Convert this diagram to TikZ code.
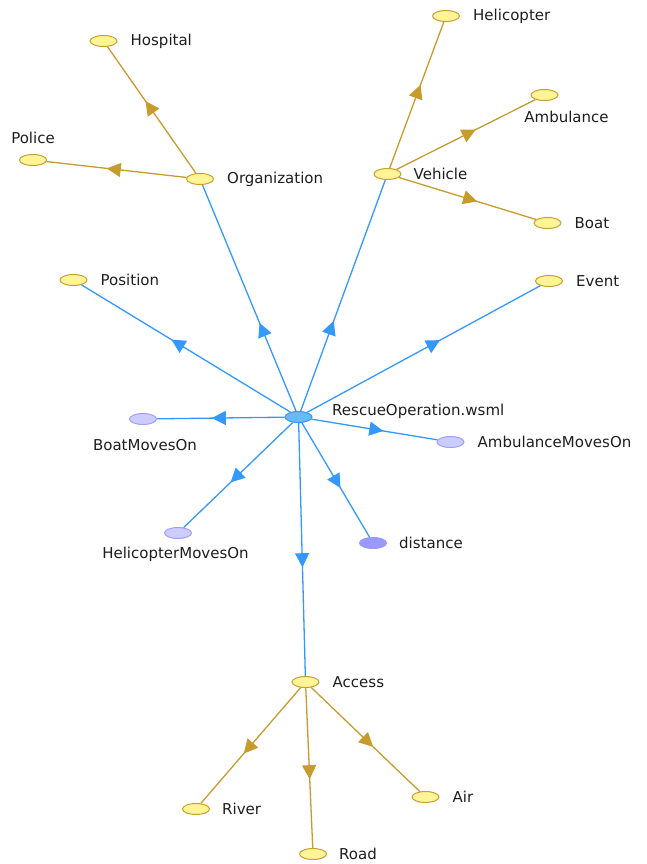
\documentclass[tikz,border=0pt]{standalone}
\usepackage{fontspec}
\setmainfont{DejaVu Sans}
\usepackage{tikz}
\usetikzlibrary{positioning,arrows.meta,shapes.geometric,decorations.markings}
\definecolor{conceptcol}{RGB}{255,244,150}
\definecolor{conceptborder}{RGB}{200,160,50}
\definecolor{isaedge}{RGB}{200,155,45}
\definecolor{reledge}{RGB}{51,153,255}
\definecolor{ontcol}{RGB}{102,187,255}
\definecolor{relcol}{RGB}{204,204,255}
\definecolor{relborder}{RGB}{160,160,255}
\definecolor{attrcol}{RGB}{153,153,255}
\definecolor{labeltext}{RGB}{30,30,30}

\begin{document}
\begin{tikzpicture}[
                x=1pt, y=-1pt,
                lbl/.style={font=\fontsize{15}{18}\selectfont, text=labeltext, inner sep=0pt},
                concept/.style={ellipse, draw=conceptborder, fill=conceptcol, line width=1pt, minimum width=27pt, minimum height=11pt, inner sep=0pt},
                relnode/.style={concept, draw=relborder, fill=relcol},
                attrnode/.style={concept, draw=attrcol, fill=attrcol},
                ontnode/.style={concept, draw=reledge, fill=ontcol},
                midtip/.style={postaction={decorate, decoration={markings, mark=at position #1 with {\arrow{Triangle[length=14pt, width=14pt]}}}}},
                isa/.style={draw=isaedge, line width=1.3pt, midtip=#1, color=isaedge},
                isa/.default=0.57,
                rel/.style={draw=reledge, line width=1.3pt, midtip=#1, color=reledge},
                rel/.default=0.57
                ]
                \useasboundingbox (0,0) rectangle (647,864);

                % centre of the ontology
                \node[ontnode] (onto) at (298.5,417) {};
                \node[lbl, anchor=west] (ontoL) at (332,411) {RescueOperation.wsml};

                % concepts
                \node[concept] (org) at (200,179) {};
                \node[concept] (hosp) at (103.5,41) {};
                \node[concept] (police) at (33,160) {};
                \node[concept] (veh) at (387.5,174) {};
                \node[concept] (heli) at (446,16) {};
                \node[concept] (amb) at (544.5,95) {};
                \node[concept] (boat) at (547.5,223) {};
                \node[concept] (pos) at (73.5,280) {};
                \node[concept] (event) at (549,281) {};
                \node[concept] (access) at (305.5,682) {};
                \node[concept] (river) at (196,809) {};
                \node[concept] (road) at (313,854) {};
                \node[concept] (air) at (425.5,797) {};

                % relations and attribute
                \node[relnode] (boatmv) at (143,419) {};
                \node[relnode] (ambmv) at (450.5,442) {};
                \node[relnode] (helimv) at (178,533) {};
                \node[attrnode] (dist) at (373,543) {};

                \node[lbl, right=13pt of org] (orgL) {Organization};
                \node[lbl, right=13pt of hosp] (hospL) {Hospital};
                \node[lbl, above=10pt of police] (policeL) {Police};
                \node[lbl, right=12pt of veh] (vehL) {Vehicle};
                \node[lbl, right=13pt of heli] (heliL) {Helicopter};
                \node[lbl, below=10pt of amb, xshift=22pt] (ambL) {Ambulance};
                \node[lbl, right=13pt of boat] (boatL) {Boat};
                \node[lbl, right=13pt of pos] (posL) {Position};
                \node[lbl, right=13pt of event] (eventL) {Event};
                \node[lbl, right=13pt of access] (accessL) {Access};
                \node[lbl, right=12pt of river] (riverL) {River};
                \node[lbl, right=12pt of road] (roadL) {Road};
                \node[lbl, right=13pt of air] (airL) {Air};
                \node[lbl, below=14pt of boatmv, xshift=2pt] (boatmvL) {BoatMovesOn};
                \node[lbl, below=8pt of helimv, xshift=-2.5pt] (helimvL) {HelicopterMovesOn};
                \node[lbl, right=13pt of ambmv] (ambmvL) {AmbulanceMovesOn};
                \node[lbl, right=12pt of dist] (distL) {distance};

                % edges from the ontology
                \draw[rel=0.39] (onto) -- (org);
                \draw[rel=0.39] (onto) -- (veh);
                \draw[rel] (onto) -- (pos);
                \draw[rel] (onto) -- (event);
                \draw[rel] (onto) -- (boatmv);
                \draw[rel] (onto) -- (ambmv);
                \draw[rel] (onto) -- (helimv);
                \draw[rel] (onto) -- (dist);
                \draw[rel] (onto) -- (access);

                % subconcepts
                \draw[isa] (org) -- (hosp);
                \draw[isa] (org) -- (police);
                \draw[isa] (veh) -- (heli);
                \draw[isa] (veh) -- (amb);
                \draw[isa] (veh) -- (boat);
                \draw[isa] (access) -- (river);
                \draw[isa] (access) -- (road);
                \draw[isa] (access) -- (air);
            \end{tikzpicture}
\end{document}
